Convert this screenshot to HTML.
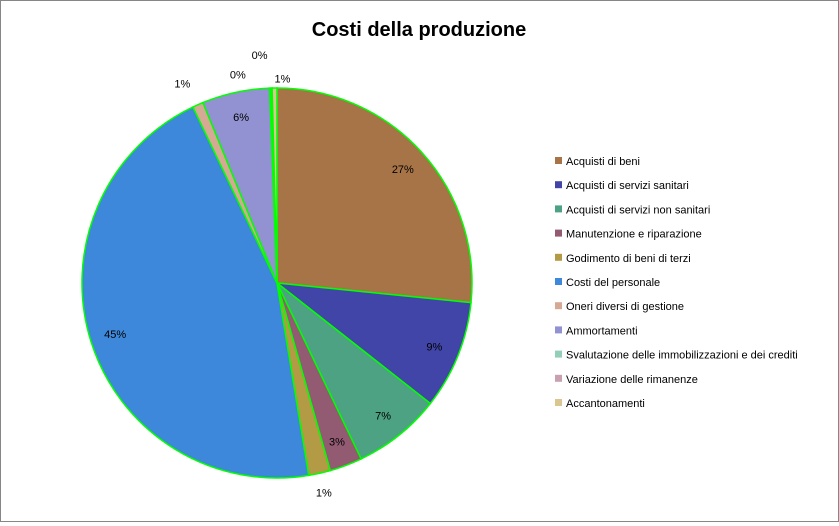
<!DOCTYPE html>
<html><head><meta charset="utf-8"><style>
body{margin:0;background:#fff}
#c{position:relative;width:837px;height:520px;border:1px solid #868686;background:#fff;font-family:"Liberation Sans","DejaVu Sans",sans-serif}
</style></head><body>
<div id="c">
<svg id="svg" width="837" height="520">
<text x="418" y="35" text-anchor="middle" font-size="20" font-weight="bold" fill="#000">Costi della produzione</text>
</svg>
</div>
<script>
const categories=["Acquisti di beni","Acquisti di servizi sanitari","Acquisti di servizi non sanitari","Manutenzione e riparazione","Godimento di beni di terzi","Costi del personale","Oneri diversi di gestione","Ammortamenti","Svalutazione delle immobilizzazioni e dei crediti","Variazione delle rimanenze","Accantonamenti"];
const values=[26.6,9.0,7.3,2.7,1.8,45.5,0.9,5.6,0.1,0.1,0.4];
const labels=["27%","9%","7%","3%","1%","45%","1%","6%","0%","0%","1%"];
const colors=["#A67447","#4245A8","#4DA284","#935B72","#B39B45","#3D88DA","#D5A994","#9292D2","#93CFB8","#C9A0AF","#D9C690"];
const labelDist=[0.87,0.87,0.87,0.87,1.1,0.87,1.12,0.87,1.07,1.17,1.05];
const labelShiftX=[0,0,0,0,0,0,-6,0,-32,-11,8];
const svg=document.getElementById('svg');
const NS='http://www.w3.org/2000/svg';
const cx=276,cy=282,r=195;
const total=values.reduce((a,b)=>a+b,0);
function pt(a,rad){return [cx+rad*Math.sin(a),cy-rad*Math.cos(a)];}
let acc=0;
values.forEach((v,i)=>{
  const a0=acc/total*2*Math.PI;acc+=v;const a1=acc/total*2*Math.PI;
  const p0=pt(a0,r),p1=pt(a1,r);
  const large=(a1-a0)>Math.PI?1:0;
  const p=document.createElementNS(NS,'path');
  p.setAttribute('d',`M${cx},${cy}L${p0[0]},${p0[1]}A${r},${r} 0 ${large} 1 ${p1[0]},${p1[1]}Z`);
  p.setAttribute('fill',colors[i]);p.setAttribute('stroke','#00ff00');p.setAttribute('stroke-width','1.5');
  
  
  svg.appendChild(p);
  const am=(a0+a1)/2;const lp=pt(am,r*labelDist[i]);
  const t=document.createElementNS(NS,'text');
  t.setAttribute('x',lp[0]+labelShiftX[i]);t.setAttribute('y',lp[1]+4);t.setAttribute('text-anchor','middle');
  t.setAttribute('font-size','11');t.textContent=labels[i];
  
  
  svg.appendChild(t);
});
categories.forEach((c,i)=>{
  const y=160+i*24.2;
  const s=document.createElementNS(NS,'rect');
  s.setAttribute('x',554);s.setAttribute('y',y-4);s.setAttribute('width',7);s.setAttribute('height',7);s.setAttribute('fill',colors[i]);
  
  
  svg.appendChild(s);
  const t=document.createElementNS(NS,'text');
  t.setAttribute('x',565);t.setAttribute('y',y+4);t.setAttribute('font-size','11');t.textContent=c;
  
  
  svg.appendChild(t);
});
</script>
</body></html>
